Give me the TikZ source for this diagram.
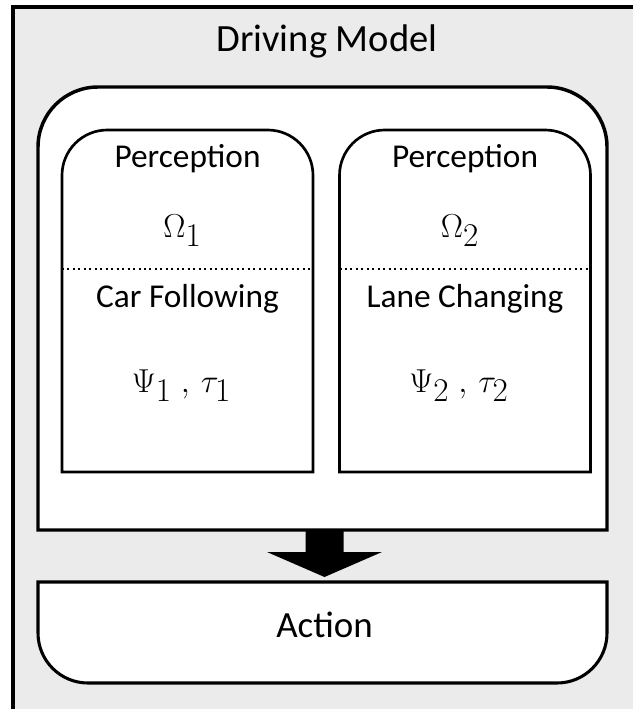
\documentclass[tikz,border=0pt]{standalone}
\usepackage{fontspec}
\setmainfont{Carlito}
\usetikzlibrary{positioning}
\definecolor{panelgray}{HTML}{EBEBEB}
\tikzset{
    headtxt/.style={font=\fontsize{28.9}{32}\selectfont, anchor=base},
    lbl/.style={font=\fontsize{25}{28}\selectfont, anchor=base},
    symb/.style={font=\fontsize{33}{36}\selectfont, anchor=base},
    box/.style={draw, line width=2pt, fill=white},
    sep/.style={line width=1.5pt, dash pattern=on 1.5pt off 2.6pt},
}
\begin{document}
\begin{tikzpicture}[x=0.75pt,y=-0.75pt]
    \useasboundingbox (0,0) rectangle (633,709);
    % grey panel, cut off at right and bottom
    \fill[panelgray] (13,7) rectangle (633,709);
    \draw[line width=3pt] (13,709) -- (13,7) -- (633,7);
    \node[headtxt] (title) at (327,52) {Driving Model};
    % model box
    \draw[box, line width=2.6pt] (38,530) -- (38,300) [rounded corners=45pt] -- (38,87) -- (607,87) -- (607,300) [sharp corners] -- (607,530) -- cycle;
    \foreach \c/\n/\task in {187.5/1/Car Following, 465/2/Lane Changing} {
        \draw[box] (\c-125.5,472) -- (\c-125.5,300) [rounded corners=34pt] -- (\c-125.5,130) -- (\c+125.5,130) -- (\c+125.5,300) [sharp corners] -- (\c+125.5,472) -- cycle;
        \draw[sep] (\c-125.5,269) -- (\c+125.5,269);
        \node[lbl] (per\n) at (\c,168) {Perception};
        \node[symb] (om\n) at (\c-5,237) {$\Omega_{\n}$};
        \node[symb] (psi\n) at (\c-6,392) {$\Psi_{\n}\;,\,\tau_{\n}$};
        \node[lbl] (task\n) at (\c,307) {\task};
    }
    % arrow to action
    \coordinate (mbot) at (324.5,530);
    \coordinate (atop) at (324.5,577);
    \fill (mbot) ++(-19,0) -- ++(0,22) -- ++(-38.5,0) -- (atop) -- ++(57.5,-25) -- ++(-38.5,0) -- ++(0,-22) -- cycle;
    % action box, round at the bottom only
    \draw[box, line width=2.3pt] (607,582) -- (38,582) -- (38,633) arc[start angle=180, end angle=270, radius=37.5pt] -- (557,683) arc[start angle=270, end angle=360, radius=37.5pt] -- cycle;
    \node[font=\fontsize{27.7}{30}\selectfont, anchor=base] (act) at (324.5,637) {Action};
\end{tikzpicture}
\end{document}
